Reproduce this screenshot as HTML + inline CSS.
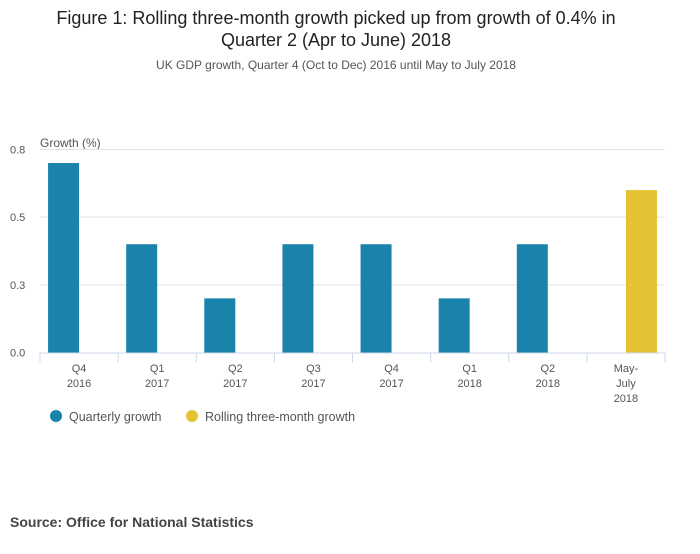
<!DOCTYPE html>
<html><head><meta charset="utf-8"><style>
body{margin:0;width:700px;height:549px;background:#fff;font-family:"Liberation Sans",sans-serif;overflow:hidden}
</style></head><body>
<svg width="700" height="549" style="font-family:'Liberation Sans',sans-serif">
<text x="336" y="24" text-anchor="middle" font-size="18" fill="#222">Figure 1: Rolling three-month growth picked up from growth of 0.4% in</text>
<text x="336" y="46" text-anchor="middle" font-size="18" fill="#222">Quarter 2 (Apr to June) 2018</text>
<text x="336" y="69" text-anchor="middle" font-size="12" fill="#555">UK GDP growth, Quarter 4 (Oct to Dec) 2016 until May to July 2018</text>
<text x="40" y="147" font-size="12" fill="#555">Growth (%)</text>
<g id="grid"></g><g id="bars"></g><g id="xaxis"></g>
<g>
<circle cx="56" cy="416" r="6" fill="#1a83ab"/>
<text x="69" y="421" font-size="12.5" fill="#555">Quarterly growth</text>
<circle cx="192" cy="416" r="6" fill="#e3c233"/>
<text x="205" y="421" font-size="12.5" fill="#555">Rolling three-month growth</text>
</g>
<text x="10" y="527" font-size="14" font-weight="bold" fill="#444">Source: Office for National Statistics</text>
</svg>
<script>
const categories=[["Q4","2016"],["Q1","2017"],["Q2","2017"],["Q3","2017"],["Q4","2017"],["Q1","2018"],["Q2","2018"],["May-","July","2018"]];
const quarterly=[0.7,0.4,0.2,0.4,0.4,0.2,0.4,null];
const rolling=[null,null,null,null,null,null,null,0.6];
const yTicks=[0,0.25,0.5,0.75];
const yTickLabels=["0.0","0.3","0.5","0.8"];
const NS="http://www.w3.org/2000/svg";
const x0=40,x1=665,yb=352.5,yt=149.5,ymax=0.75;
const slot=(x1-x0)/categories.length;
const y=v=>yb-(v/ymax)*(yb-yt);
function mk(t,a,p){const e=document.createElementNS(NS,t);for(const k in a)e.setAttribute(k,a[k]);p.appendChild(e);return e;}
const g=document.getElementById('grid');
yTicks.forEach((v,i)=>{
 if(v>0){const l=mk('line',{x1:x0,x2:x1,y1:y(v),y2:y(v),stroke:'#e3e3e3'},g);
 
 }
 const t=mk('text',{x:10,y:y(v)+4,'font-size':11,fill:'#555'},g);t.textContent=yTickLabels[i];
 
 
});
const b=document.getElementById('bars');const bw=31;
categories.forEach((c,i)=>{
 const cx=x0+slot*(i+0.5);
 if(quarterly[i]!=null){const r=mk('rect',{x:cx-bw,y:y(quarterly[i]),width:bw,height:yb-y(quarterly[i]),fill:'#1a83ab'},b);
 
 }
 if(rolling[i]!=null){const r=mk('rect',{x:cx,y:y(rolling[i]),width:bw,height:yb-y(rolling[i]),fill:'#e3c233'},b);
 
 }
});
const xa=document.getElementById('xaxis');
const al=mk('line',{x1:x0,x2:x1,y1:yb+0.5,y2:yb+0.5,stroke:'#ccd6eb'},xa);


for(let i=0;i<=categories.length;i++){const tx=x0+slot*i;const tk=mk('line',{x1:tx,x2:tx,y1:yb,y2:yb+10,stroke:'#ccd6eb'},xa);
 
 }
categories.forEach((c,i)=>{
 const cx=x0+slot*(i+0.5);
 c.forEach((s,j)=>{const t=mk('text',{x:cx,y:372+j*15,'text-anchor':'middle','font-size':11,fill:'#555'},xa);t.textContent=s;
 
 });
});
</script>
</body></html>
